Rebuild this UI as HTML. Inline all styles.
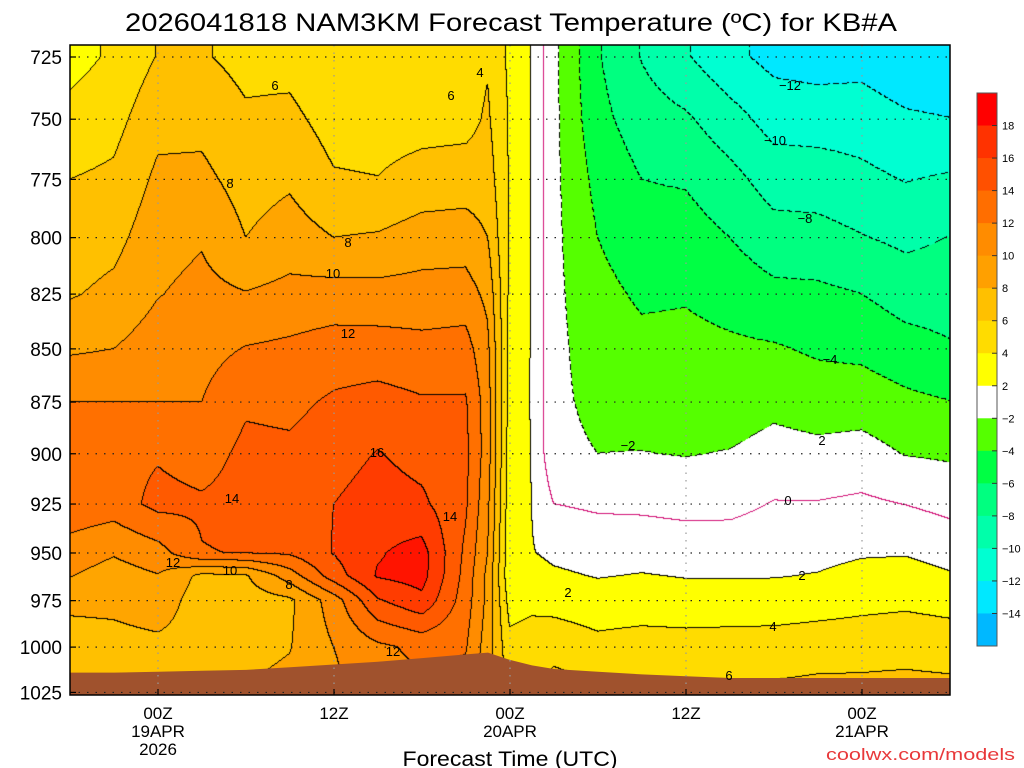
<!DOCTYPE html>
<html><head><meta charset="utf-8"><title>NAM3KM Forecast Temperature</title>
<style>
html,body{margin:0;padding:0;background:#fff;}
#wrap{position:relative;width:1024px;height:768px;overflow:hidden;background:#fff;font-family:"Liberation Sans",sans-serif;}
#field{position:absolute;left:70px;top:45px;}
#over{position:absolute;left:0;top:0;}
</style></head>
<body>
<div id="wrap">
<canvas id="field" width="880" height="650"></canvas>
<svg id="over" width="1024" height="768" xmlns="http://www.w3.org/2000/svg">
  <text x="511" y="31" text-anchor="middle" font-size="25" textLength="772" lengthAdjust="spacingAndGlyphs" fill="#000">2026041818 NAM3KM Forecast Temperature (ºC) for KB#A</text>
  <g id="ground"></g>
  <g id="grid"></g>
  <g id="clabels" font-size="13" fill="#000"></g>
  <rect x="70" y="45" width="880" height="650" fill="none" stroke="#000" stroke-width="1.5"/>
  <g id="yaxis" font-size="19" fill="#000"></g>
  <g id="xaxis" font-size="17" fill="#000"></g>
  <text x="510" y="766" text-anchor="middle" font-size="21" textLength="215" lengthAdjust="spacingAndGlyphs">Forecast Time (UTC)</text>
  <text x="826" y="760" font-size="17" fill="#e8383a" textLength="189" lengthAdjust="spacingAndGlyphs">coolwx.com/models</text>
  <g id="cbar"></g>
</svg>
</div>
<script>
// ---- data ----
const hours = [0,3,6,9,12,15,18,21,24,27,28.5,30,31.5,33,36,39,42,45,48,51,54,57,60];
const pressures = [725,750,775,800,825,850,875,900,925,950,962,975,1000,1025];
const temps = [
 [3.3,4.6,6.0,6.9,7.8,9.7,12.0,14.0,13.4,11.1,10.1,8.4,7.2,7],
 [4.3,5.3,6.4,7.4,8.5,10.0,12.0,13.3,13.0,10.2,9.1,8.5,7.3,7.1],
 [6.1,7.4,8.4,9.2,9.9,11.0,12.0,13.8,14.6,11.2,9.9,9.1,7.5,7.3],
 [6.2,7.4,8.5,9.8,10.6,11.3,12.0,13.1,14.3,13.9,7.5,7.0,7.3,7.8],
 [5.4,6.3,7.2,8.0,10.1,12.1,13.7,14.5,14.8,14.1,7.8,7.0,7.4,8.1],
 [5.3,6.5,7.7,8.9,10.6,12.4,13.5,14.4,14.7,14.3,11,7.6,7.9,8.6],
 [4.2,5.2,6.2,8.0,10.8,12.9,14.3,15.2,16.0,16.1,15.0,11,10,9.5],
 [4.5,5.1,6.05,8.2,10.7,12.9,14.7,16.1,16.9,17.8,18.2,15.8,11.6,11],
 [4.8,5.2,6.8,8.9,10.8,12.6,14.2,15.3,16.4,18.8,18.8,17.5,12.5,11.5],
 [4.8,5.3,7.0,9.0,10.9,12.8,14.2,14.5,14.3,13.6,13.3,13,12.2,11],
 [5.8,6.3,7,8,9.5,10.5,11,11,10.5,10,9.5,9.5,9,8.5],
 [3.6,3.8,3.8,3.8,3.6,3.4,3.2,3.0,2.8,2.6,2.5,3.2,4.6,5.5],
 [1.9,1.9,1.9,1.9,1.9,1.9,1.9,1.95,2.0,2.1,2.8,3.5,5,6],
 [-1.5,-1.5,-1.5,-1.5,-1.5,-1.5,-1.6,-1.5,0,1.6,2.3,3.2,5.4,6.8],
 [-5.8,-5.4,-4.6,-4.0,-3.4,-2.9,-2.45,-2.0,-0.3,1.2,1.9,2.8,4.6,6.5],
 [-8.1,-7.0,-6.0,-5.2,-4.3,-3.5,-2.8,-1.95,-0.4,1.3,2.1,2.9,4.9,6.4],
 [-9.8,-7.7,-6.2,-5.1,-4.2,-3.4,-2.7,-2.1,-0.6,1.1,1.9,2.8,4.8,6.3],
 [-11.5,-9.2,-7.35,-6.0,-4.75,-3.65,-3.05,-1.9,-0.55,1.1,1.9,2.8,4.9,6.3],
 [-12.6,-10.8,-8.9,-7.2,-5.5,-3.8,-2.5,-1.3,0.1,1.3,1.9,2.9,4.9,6.4],
 [-12.9,-10.9,-9.0,-7.3,-5.6,-4.3,-2.9,-1.5,0.1,1.45,2.1,3.1,5.1,6.6],
 [-12.7,-11.0,-9.5,-7.9,-6.0,-4.5,-2.9,-1.25,0.35,1.8,2.6,3.4,5.2,6.6],
 [-13.5,-11.7,-10.1,-8.45,-6.85,-5.25,-3.55,-2.1,-0.05,1.85,2.8,3.6,5.3,6.7],
 [-13.9,-11.95,-9.75,-7.95,-6.9,-5.8,-3.95,-2.3,-0.55,1.25,2.2,3.3,5.1,6.6]
];
const surfacePressure = [1014,1014,1013.5,1013,1012.5,1011,1009.5,1008,1006,1004,1003,1007,1010,1012,1013.5,1015,1016,1017,1017,1017,1017,1017,1017];
const yTicks = [725,750,775,800,825,850,875,900,925,950,975,1000,1025];
const xTickHours = [6,18,30,42,54];
const xTickLine1 = ["00Z","12Z","00Z","12Z","00Z"];
const xTickLine2 = ["19APR","","20APR","","21APR"];
const xTickLine3 = ["2026","","","",""];
const cbarLabels = ["18","16","14","12","10","8","6","4","2","\u22122","\u22124","\u22126","\u22128","\u221210","\u221212","\u221214"];
const binColors = ["#ff0000","#ff3200","#ff5000","#ff6e00","#ff8c00","#ffa000","#ffc000","#ffdc00","#ffff00","#ffffff","#55ff00","#00ff44","#00ff80","#00ffaa","#00ffd2","#00e8ff","#00b8ff"];

// ---- axes ----
const X0=70,X1=950,Y0=45,Y1=695;
function xOf(h){return X0+h*(X1-X0)/60;}
function yOf(p){return 57+1835*Math.log(p/725);}
function colorFor(v){
  if(v>=18)return [255,20,0];
  if(v>=16)return [255,60,0];
  if(v>=14)return [255,90,0];
  if(v>=12)return [255,112,0];
  if(v>=10)return [255,140,0];
  if(v>=8)return [255,165,0];
  if(v>=6)return [255,192,0];
  if(v>=4)return [255,220,0];
  if(v>=2)return [255,255,0];
  if(v>=-2)return [255,255,255];
  if(v>=-4)return [85,255,0];
  if(v>=-6)return [0,255,68];
  if(v>=-8)return [0,255,128];
  if(v>=-10)return [0,255,170];
  if(v>=-12)return [0,255,210];
  if(v>=-14)return [0,232,255];
  return [0,184,255];
}

// ---- field ----
(function(){
  const cv=document.getElementById('field');const ctx=cv.getContext('2d');
  const W=880,Hh=650;const img=ctx.createImageData(W,Hh);const d=img.data;
  const colX=hours.map(xOf), rowY=pressures.map(yOf);
  const cj=[],cf=[],ri=[],rf=[];
  for(let px=0;px<W;px++){const x=X0+px+0.5;let j=0;while(j<colX.length-2&&x>colX[j+1])j++;let f=(x-colX[j])/(colX[j+1]-colX[j]);f=Math.max(0,Math.min(1,f));cj.push(j);cf.push(f);}
  for(let py=0;py<Hh;py++){const y=Y0+py+0.5;let i=0;while(i<rowY.length-2&&y>rowY[i+1])i++;let f=(y-rowY[i])/(rowY[i+1]-rowY[i]);f=Math.max(0,Math.min(1,f));ri.push(i);rf.push(f);}
  const V=new Float32Array(W*Hh);
  for(let py=0;py<Hh;py++){const i=ri[py],fy=rf[py];
    for(let px=0;px<W;px++){const j=cj[px],fx=cf[px];
      const a=temps[j][i],b=temps[j+1][i],c=temps[j][i+1],e=temps[j+1][i+1];
      const v=(a*(1-fx)+b*fx)*(1-fy)+(c*(1-fx)+e*fx)*fy;V[py*W+px]=v;
      const col=colorFor(v);const k=(py*W+px)*4;d[k]=col[0];d[k+1]=col[1];d[k+2]=col[2];d[k+3]=255;}}
  for(let py=0;py<Hh;py++){for(let px=0;px<W;px++){
    const l=Math.floor(V[py*W+px]/2);let m=null;
    if(px<W-1){const l2=Math.floor(V[py*W+px+1]/2);if(l2!==l)m=Math.max(l,l2);}
    if(m===null&&py<Hh-1){const l3=Math.floor(V[(py+1)*W+px]/2);if(l3!==l)m=Math.max(l,l3);}
    if(m===null)continue;const c=m*2;const k=(py*W+px)*4;
    if(c===0){d[k]=210;d[k+1]=20;d[k+2]=120;}
    else if(c<0){if(((px+py)%9)<6){d[k]=0;d[k+1]=0;d[k+2]=0;}}
    else{d[k]=0;d[k+1]=0;d[k+2]=0;}
  }}
  ctx.putImageData(img,0,0);
})();

const NS='http://www.w3.org/2000/svg';
function mk(tag,attrs,parent){const e=document.createElementNS(NS,tag);for(const k in attrs)e.setAttribute(k,attrs[k]);parent.appendChild(e);return e;}

// ground
(function(){
  const g=document.getElementById('ground');
  let pts=hours.map((h,i)=>xOf(h).toFixed(1)+','+yOf(surfacePressure[i]).toFixed(1));
  pts.push(X1+','+Y1);pts.push(X0+','+Y1);
  const poly=mk('polygon',{points:pts.join(' '),fill:'#a0522d'},g);
  
  
})();

// grid
(function(){
  const g=document.getElementById('grid');
  yTicks.forEach(p=>{const y=yOf(p);
    const l=mk('line',{x1:X0,x2:X1,y1:y,y2:y,stroke:'#222','stroke-width':1.2,'stroke-dasharray':'1.5 7'},g);
    
    });
  xTickHours.forEach(h=>{const x=xOf(h);
    const l=mk('line',{x1:x,x2:x,y1:Y0,y2:Y1,stroke:'#999','stroke-width':1.2,'stroke-dasharray':'1.5 6'},g);
    
    });
})();

// contour labels
(function(){
  const g=document.getElementById('clabels');
  const labs=[["6",275,90],["8",230,188],["8",348,247],["10",333,278],["12",348,338],["14",232,503],["16",377,457],["14",450,521],["12",173,567],["10",230,575],["8",289,589],["12",393,656],["4",480,77],["6",451,100],["\u221212",790,90],["\u221210",775,145],["\u22128",805,223],["\u22124",830,364],["\u22122",628,450],["2",822,445],["0",788,505],["2",802,580],["2",568,597],["4",773,631],["6",729,680]];
  labs.forEach(l=>{const t=mk('text',{x:l[1],y:l[2],'text-anchor':'middle'},g);t.textContent=l[0];
    
    });
})();

// y axis
(function(){
  const g=document.getElementById('yaxis');
  yTicks.forEach(p=>{const y=yOf(p);
    const t=mk('text',{x:62,y:y+7,'text-anchor':'end'},g);t.textContent=p;
    
    
    const tk=mk('line',{x1:X0,x2:X0+6,y1:y,y2:y,stroke:'#000','stroke-width':1.2},g);
    
    });
})();

// x axis
(function(){
  const g=document.getElementById('xaxis');
  xTickHours.forEach((h,i)=>{const x=xOf(h);
    [[xTickLine1[i],719],[xTickLine2[i],737],[xTickLine3[i],755]].forEach(r=>{if(!r[0])return;
      const t=mk('text',{x:x,y:r[1],'text-anchor':'middle'},g);t.textContent=r[0];
      
      });
    const tk=mk('line',{x1:x,x2:x,y1:Y1,y2:Y1-6,stroke:'#000','stroke-width':1.2},g);
    
    });
})();

// colorbar
(function(){
  const g=document.getElementById('cbar');
  const top=93,bot=646,n=binColors.length,h=(bot-top)/n;
  binColors.forEach((c,i)=>{const r=mk('rect',{x:977,y:top+i*h,width:20,height:h+0.5,fill:c},g);
    
    });
  mk('rect',{x:977,y:top,width:20,height:bot-top,fill:'none',stroke:'#555','stroke-width':1},g);
  cbarLabels.forEach((s,i)=>{const y=top+(i+1)*h;
    mk('line',{x1:992,x2:997,y1:y,y2:y,stroke:'#333','stroke-width':1},g);
    const t=mk('text',{x:1002,y:y+4,'font-size':11,fill:'#000'},g);t.textContent=s;
    
    });
})();
</script>
</body></html>
